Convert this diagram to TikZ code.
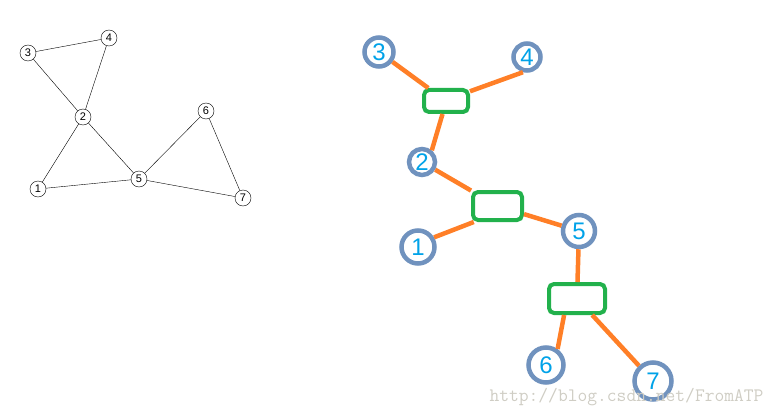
\documentclass[tikz,border=0pt]{standalone}
\usepackage{fontspec}
\setsansfont{Liberation Sans}
\definecolor{ringblue}{HTML}{7092BE}
\definecolor{digitblue}{HTML}{00A2E8}
\definecolor{edgeorange}{HTML}{FF7F27}
\definecolor{boxgreen}{HTML}{22B14C}
\definecolor{wmgray}{HTML}{CFCDC4}
\begin{document}
\begin{tikzpicture}[x=1pt, y=-1pt, every node/.style={font=\sffamily}]
\tikzset{vtx/.style={circle, draw, fill=white, inner sep=0pt, minimum size=16pt, font=\sffamily\fontsize{11}{11}\selectfont},
  ring/.style={circle, draw=ringblue, line width=4.5pt, inner sep=0pt, text=digitblue, font=\sffamily\fontsize{24}{24}\selectfont},
  bag/.style={rectangle, rounded corners=5pt, draw=boxgreen, line width=4pt, inner sep=0pt},
  link/.style={edgeorange, line width=4.5pt},
  wmark/.style={text=wmgray, font=\ttfamily\fontsize{19}{19}\selectfont}}
\useasboundingbox (0,0) rectangle (778,417);
% graph
\foreach \n/\x/\y in {1/38/189, 2/83/117, 3/28/53, 4/109/38, 5/139/179, 6/206/111, 7/243/198} \node[vtx] (v\n) at (\x,\y) {\n};
\foreach \a/\b in {3/4, 3/2, 4/2, 2/1, 2/5, 1/5, 5/6, 5/7, 6/7} \draw (v\a) -- (v\b);
% tree
\node[ring, minimum size=29pt] (t3) at (379,52) {3}; \node[ring, minimum size=27pt] (t4) at (527,57) {4};
\node[ring, minimum size=26pt] (t2) at (422,162) {2}; \node[ring, minimum size=33pt] (t1) at (418,247) {1};
\node[ring, minimum size=32pt] (t5) at (579,231) {5}; \node[ring, minimum size=35pt] (t6) at (546,365) {6};
\node[ring, minimum size=37pt] (t7) at (653,381) {7};
\node[bag, minimum width=44pt, minimum height=22pt] (b1) at (446,101) {};
\node[bag, minimum width=49pt, minimum height=28pt] (b2) at (497.5,206) {};
\node[bag, minimum width=56pt, minimum height=29pt] (b3) at (577,298.5) {};
\draw[link] (t3) -- (b1); \draw[link] (t4.255) -- (b1.22); \draw[link] (b1.-105) -- (t2.50);
\draw[link] (t2) -- (b2); \draw[link] (b2.214) -- (t1.31); \draw[link] (b2) -- (t5);
\draw[link] (t5) -- (b3); \draw[link] (b3.-128) -- (t6.54); \draw[link] (b3) -- (t7);
\node[wmark] (wm) at (626.5,397) {http://blog.csdn.net/FromATP};
\end{tikzpicture}
\end{document}
